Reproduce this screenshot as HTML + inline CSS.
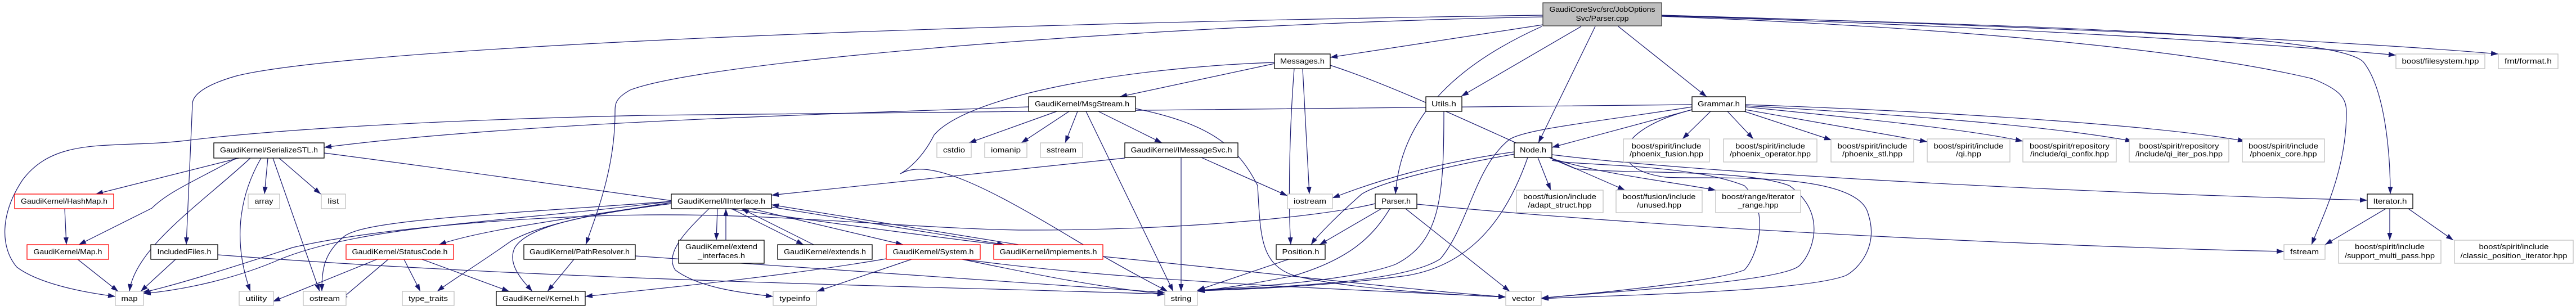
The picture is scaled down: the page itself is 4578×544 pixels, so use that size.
<!DOCTYPE html>
<html><head><meta charset="utf-8"><style>
html,body{margin:0;padding:0;background:#fff;}
svg{display:block;}
text{font-family:"Liberation Sans",sans-serif;font-size:13px;fill:#000;}
.e{fill:none;stroke:#191970;stroke-width:1.2;marker-end:url(#a);}
.b{fill:#fff;stroke:#000;stroke-width:1.3;}
.g{fill:#fff;stroke:#bfbfbf;stroke-width:1.3;}
.r{fill:#fff;stroke:#ff0000;stroke-width:1.3;}
.s{fill:#bfbfbf;stroke:#404040;stroke-width:1.3;}
</style></head><body>
<svg width="4578" height="544" viewBox="0 0 4578 544" xmlns="http://www.w3.org/2000/svg">
<defs><marker id="a" markerUnits="userSpaceOnUse" markerWidth="13" markerHeight="9" refX="13" refY="4.5" orient="auto"><path d="M0,0 L13,4.5 L0,9 z" fill="#191970"/></marker></defs>
<g>
<path class="e" d="M2742,27 C1500,45 600,90 420,135 C350,155 342,175 342,185 L331,435"/>
<path class="e" d="M2742,30 C2000,45 1250,110 1120,160 C1093,175 1093,185 1093,200 C1093,300 1060,380 1041,435"/>
<path class="e" d="M2742,44 L2364,102"/>
<path class="e" d="M2740,47 C2600,110 2490,200 2480,345"/>
<path class="e" d="M2810,47 L2597,171"/>
<path class="e" d="M2835,47 L2734,254"/>
<path class="e" d="M2876,47 L3033,172"/>
<path class="e" d="M2953,28 C3500,45 4000,75 4258,98"/>
<path class="e" d="M2953,27 C3600,45 4200,75 4440,96"/>
<path class="e" d="M2953,28 C3600,45 4150,60 4200,110 C4240,160 4248,280 4248,345"/>
<path class="e" d="M2953,29 C3500,50 3900,90 4110,140 C4160,160 4170,175 4170,200 C4170,300 4130,380 4108,435"/>
<path class="e" d="M2265,113 L1990,172"/>
<path class="e" d="M2265,111 C2000,120 1720,170 1660,240 C1640,280 1615,300 1600,309 C1650,280 1750,330 1900,420 C2000,480 2060,510 2075,518"/>
<path class="e" d="M2300,122 C2290,250 2290,380 2294,435"/>
<path class="e" d="M2315,122 L2327,345"/>
<path class="e" d="M2364,116 C2500,160 2700,260 2800,300 C2900,310 3100,300 3180,330 C3250,380 3220,450 3200,470 C3180,500 2900,515 2739,530"/>
<path class="e" d="M2758,285 C2800,295 3000,290 3100,330 C3150,380 3120,460 3100,480 C3050,500 2850,520 2739,530"/>
<path class="e" d="M3007,195 C2870,230 2850,300 2960,315 C3020,320 3300,300 3320,380 C3340,440 3300,480 3280,490 C3200,520 2850,525 2739,531"/>
<path class="e" d="M3040,198 L2990,247"/>
<path class="e" d="M3070,198 L3116,247"/>
<path class="e" d="M3100,198 L3255,249"/>
<path class="e" d="M3102,195 L3425,252"/>
<path class="e" d="M3102,190 C3300,210 3500,230 3595,251"/>
<path class="e" d="M3102,188 C3400,205 3650,225 3790,251"/>
<path class="e" d="M3102,186 C3500,200 3850,225 3990,251"/>
<path class="e" d="M3007,195 L2758,262"/>
<path class="e" d="M3007,186 C2000,198 1500,200 1150,205 C700,215 450,235 330,250 C200,265 100,240 40,320 C0,380 0,440 30,475 C70,505 150,520 205,527"/>
<path class="e" d="M3007,190 C2850,215 2700,230 2680,250 C2620,300 2610,400 2560,460 C2500,500 2300,510 2128,516"/>
<path class="e" d="M2566,198 C2566,350 2560,430 2480,470 C2400,500 2200,512 2128,516"/>
<path class="e" d="M2691,270 C2550,290 2450,320 2368,352"/>
<path class="e" d="M2691,274 C2600,290 2460,320 2420,345 C2380,380 2340,420 2330,435"/>
<path class="e" d="M2715,280 C2680,380 2620,470 2500,490 C2350,510 2200,515 2128,517"/>
<path class="e" d="M2733,280 L2756,338"/>
<path class="e" d="M2755,280 L2888,338"/>
<path class="e" d="M2758,282 C2850,310 2950,320 3049,338"/>
<path class="e" d="M2758,275 C3000,305 3600,340 4207,356"/>
<path class="e" d="M2455,371 L2345,435"/>
<path class="e" d="M2470,371 C2440,420 2400,460 2300,490 C2200,510 2150,515 2128,518"/>
<path class="e" d="M2498,371 L2683,518"/>
<path class="e" d="M2518,363 C3000,410 3700,440 4059,447"/>
<path class="e" d="M2444,362 C2350,385 2100,410 1810,409 C1600,405 1400,380 1150,382 C900,385 650,410 520,440 C400,480 300,510 253,520"/>
<path class="e" d="M2290,461 L2128,516"/>
<path class="e" d="M1999,281 L1371,347"/>
<path class="e" d="M2099,280 L2099,518"/>
<path class="e" d="M2135,280 L2288,348"/>
<path class="e" d="M1878,198 L1722,254"/>
<path class="e" d="M1900,198 L1815,254"/>
<path class="e" d="M1915,198 L1893,254"/>
<path class="e" d="M1952,198 L2065,254"/>
<path class="e" d="M1930,198 L2085,518"/>
<path class="e" d="M2018,193 C2150,220 2200,260 2235,330 C2240,420 2240,470 2300,490 C2400,515 2600,525 2676,528"/>
<path class="e" d="M1828,190 C1400,205 900,220 576,262"/>
<path class="e" d="M1193,360 C1000,390 850,410 780,435"/>
<path class="e" d="M1193,358 C900,395 650,400 500,460 C420,495 330,515 255,522"/>
<path class="e" d="M1193,358 C900,380 650,390 612,420 C575,450 572,480 572,518"/>
<path class="e" d="M1193,362 C1050,380 960,400 909,428 C850,470 800,500 777,518"/>
<path class="e" d="M1193,362 C1050,380 940,400 915,440 C900,470 930,500 946,518"/>
<path class="e" d="M1260,371 C1220,410 1180,450 1200,480 C1240,510 1310,520 1374,527"/>
<path class="e" d="M1275,371 L1273,427"/>
<path class="e" d="M1290,427 L1290,371"/>
<path class="e" d="M1300,371 L1428,435"/>
<path class="e" d="M1446,435 L1318,371"/>
<path class="e" d="M1335,371 L1605,435"/>
<path class="e" d="M1371,368 L1785,435"/>
<path class="e" d="M1810,435 L1371,364"/>
<path class="e" d="M425,281 L170,345"/>
<path class="e" d="M420,281 C350,320 300,340 270,370 L140,435"/>
<path class="e" d="M445,281 C360,360 240,440 230,518"/>
<path class="e" d="M464,281 C430,340 410,420 445,518"/>
<path class="e" d="M476,281 L470,345"/>
<path class="e" d="M485,281 L568,518"/>
<path class="e" d="M496,281 L570,345"/>
<path class="e" d="M576,272 C1100,340 1600,420 2000,460 C2300,490 2500,515 2676,528"/>
<path class="e" d="M115,371 L118,435"/>
<path class="e" d="M138,461 L210,518"/>
<path class="e" d="M312,461 L250,518"/>
<path class="e" d="M387,453 C1000,500 1700,510 2070,523"/>
<path class="e" d="M670,461 L485,536"/>
<path class="e" d="M690,461 L605,533"/>
<path class="e" d="M718,461 L747,518"/>
<path class="e" d="M750,461 L905,518"/>
<path class="e" d="M1020,461 L973,518"/>
<path class="e" d="M1129,455 C1500,480 1800,500 2070,520"/>
<path class="e" d="M1575,460 C1400,490 1200,510 1040,527"/>
<path class="e" d="M1620,461 L1452,518"/>
<path class="e" d="M1710,461 C1850,490 1950,510 2070,523"/>
<path class="e" d="M1712,461 C2000,500 2400,515 2676,528"/>
<path class="e" d="M4240,371 L4132,435"/>
<path class="e" d="M4247,371 L4247,427"/>
<path class="e" d="M4280,371 L4360,427"/>
</g>
<g>
<rect class="s" x="2742" y="5" width="211" height="41"/>
<text x="2847.5" y="21" text-anchor="middle" textLength="188" lengthAdjust="spacingAndGlyphs">GaudiCoreSvc/src/JobOptions</text>
<text x="2847.5" y="37" text-anchor="middle" textLength="94" lengthAdjust="spacingAndGlyphs">Svc/Parser.cpp</text>

<rect class="b" x="2265" y="96" width="99" height="26"/><text x="2314.5" y="113" text-anchor="middle" textLength="79" lengthAdjust="spacingAndGlyphs">Messages.h</text>
<rect class="b" x="2534" y="172" width="64" height="26"/><text x="2566" y="189" text-anchor="middle" textLength="44" lengthAdjust="spacingAndGlyphs">Utils.h</text>
<rect class="b" x="3007" y="172" width="95" height="26"/><text x="3054.5" y="189" text-anchor="middle" textLength="75" lengthAdjust="spacingAndGlyphs">Grammar.h</text>
<rect class="b" x="1828" y="172" width="190" height="26"/><text x="1923" y="189" text-anchor="middle" textLength="168" lengthAdjust="spacingAndGlyphs">GaudiKernel/MsgStream.h</text>
<rect class="b" x="2691" y="254" width="67" height="26"/><text x="2724.5" y="271" text-anchor="middle" textLength="47" lengthAdjust="spacingAndGlyphs">Node.h</text>
<rect class="b" x="1999" y="254" width="201" height="26"/><text x="2099.5" y="271" text-anchor="middle" textLength="180" lengthAdjust="spacingAndGlyphs">GaudiKernel/IMessageSvc.h</text>
<rect class="b" x="380" y="254" width="196" height="27"/><text x="478" y="271" text-anchor="middle" textLength="174" lengthAdjust="spacingAndGlyphs">GaudiKernel/SerializeSTL.h</text>
<rect class="g" x="1665" y="254" width="61" height="26"/><text x="1695.5" y="271" text-anchor="middle" textLength="39" lengthAdjust="spacingAndGlyphs">cstdio</text>
<rect class="g" x="1750" y="254" width="75" height="26"/><text x="1787.5" y="271" text-anchor="middle" textLength="53" lengthAdjust="spacingAndGlyphs">iomanip</text>
<rect class="g" x="1849" y="254" width="75" height="26"/><text x="1886.5" y="271" text-anchor="middle" textLength="53" lengthAdjust="spacingAndGlyphs">sstream</text>

<rect class="g" x="2885" y="247" width="153" height="41"/><text x="2961.5" y="264" text-anchor="middle" textLength="124" lengthAdjust="spacingAndGlyphs">boost/spirit/include</text><text x="2961.5" y="278" text-anchor="middle" textLength="131" lengthAdjust="spacingAndGlyphs">/phoenix_fusion.hpp</text>
<rect class="g" x="3063" y="247" width="166" height="41"/><text x="3146" y="264" text-anchor="middle" textLength="124" lengthAdjust="spacingAndGlyphs">boost/spirit/include</text><text x="3146" y="278" text-anchor="middle" textLength="144" lengthAdjust="spacingAndGlyphs">/phoenix_operator.hpp</text>
<rect class="g" x="3254" y="247" width="147" height="41"/><text x="3327.5" y="264" text-anchor="middle" textLength="124" lengthAdjust="spacingAndGlyphs">boost/spirit/include</text><text x="3327.5" y="278" text-anchor="middle" textLength="107" lengthAdjust="spacingAndGlyphs">/phoenix_stl.hpp</text>
<rect class="g" x="3425" y="247" width="147" height="41"/><text x="3498.5" y="264" text-anchor="middle" textLength="124" lengthAdjust="spacingAndGlyphs">boost/spirit/include</text><text x="3498.5" y="278" text-anchor="middle" textLength="45" lengthAdjust="spacingAndGlyphs">/qi.hpp</text>
<rect class="g" x="3595" y="247" width="166" height="41"/><text x="3678" y="264" text-anchor="middle" textLength="142" lengthAdjust="spacingAndGlyphs">boost/spirit/repository</text><text x="3678" y="278" text-anchor="middle" textLength="140" lengthAdjust="spacingAndGlyphs">/include/qi_confix.hpp</text>
<rect class="g" x="3784" y="247" width="177" height="41"/><text x="3872.5" y="264" text-anchor="middle" textLength="142" lengthAdjust="spacingAndGlyphs">boost/spirit/repository</text><text x="3872.5" y="278" text-anchor="middle" textLength="155" lengthAdjust="spacingAndGlyphs">/include/qi_iter_pos.hpp</text>
<rect class="g" x="3985" y="247" width="146" height="41"/><text x="4058" y="264" text-anchor="middle" textLength="124" lengthAdjust="spacingAndGlyphs">boost/spirit/include</text><text x="4058" y="278" text-anchor="middle" textLength="119" lengthAdjust="spacingAndGlyphs">/phoenix_core.hpp</text>

<rect class="g" x="4258" y="96" width="158" height="26"/><text x="4337" y="113" text-anchor="middle" textLength="137" lengthAdjust="spacingAndGlyphs">boost/filesystem.hpp</text>
<rect class="g" x="4440" y="96" width="106" height="26"/><text x="4493" y="113" text-anchor="middle" textLength="84" lengthAdjust="spacingAndGlyphs">fmt/format.h</text>

<rect class="r" x="26" y="345" width="176" height="26"/><text x="114" y="362" text-anchor="middle" textLength="154" lengthAdjust="spacingAndGlyphs">GaudiKernel/HashMap.h</text>
<rect class="g" x="441" y="345" width="56" height="26"/><text x="469" y="362" text-anchor="middle" textLength="33" lengthAdjust="spacingAndGlyphs">array</text>
<rect class="g" x="571" y="345" width="43" height="26"/><text x="592.5" y="362" text-anchor="middle" textLength="20" lengthAdjust="spacingAndGlyphs">list</text>
<rect class="b" x="1193" y="345" width="178" height="26"/><text x="1282" y="362" text-anchor="middle" textLength="156" lengthAdjust="spacingAndGlyphs">GaudiKernel/IInterface.h</text>
<rect class="g" x="2288" y="345" width="80" height="26"/><text x="2328" y="362" text-anchor="middle" textLength="58" lengthAdjust="spacingAndGlyphs">iostream</text>
<rect class="b" x="2444" y="345" width="74" height="26"/><text x="2481" y="362" text-anchor="middle" textLength="52" lengthAdjust="spacingAndGlyphs">Parser.h</text>
<rect class="g" x="2695" y="338" width="154" height="40"/><text x="2772" y="354" text-anchor="middle" textLength="130" lengthAdjust="spacingAndGlyphs">boost/fusion/include</text><text x="2772" y="369" text-anchor="middle" textLength="113" lengthAdjust="spacingAndGlyphs">/adapt_struct.hpp</text>
<rect class="g" x="2872" y="338" width="153" height="40"/><text x="2948.5" y="354" text-anchor="middle" textLength="130" lengthAdjust="spacingAndGlyphs">boost/fusion/include</text><text x="2948.5" y="369" text-anchor="middle" textLength="79" lengthAdjust="spacingAndGlyphs">/unused.hpp</text>
<rect class="g" x="3049" y="338" width="151" height="40"/><text x="3124.5" y="354" text-anchor="middle" textLength="129" lengthAdjust="spacingAndGlyphs">boost/range/iterator</text><text x="3124.5" y="369" text-anchor="middle" textLength="72" lengthAdjust="spacingAndGlyphs">_range.hpp</text>
<rect class="b" x="4207" y="345" width="81" height="26"/><text x="4247.5" y="362" text-anchor="middle" textLength="60" lengthAdjust="spacingAndGlyphs">Iterator.h</text>

<rect class="r" x="48" y="435" width="145" height="26"/><text x="120.5" y="452" text-anchor="middle" textLength="122" lengthAdjust="spacingAndGlyphs">GaudiKernel/Map.h</text>
<rect class="b" x="268" y="435" width="119" height="26"/><text x="327.5" y="452" text-anchor="middle" textLength="96" lengthAdjust="spacingAndGlyphs">IncludedFiles.h</text>
<rect class="r" x="615" y="435" width="191" height="26"/><text x="710.5" y="452" text-anchor="middle" textLength="170" lengthAdjust="spacingAndGlyphs">GaudiKernel/StatusCode.h</text>
<rect class="b" x="931" y="435" width="198" height="26"/><text x="1030" y="452" text-anchor="middle" textLength="178" lengthAdjust="spacingAndGlyphs">GaudiKernel/PathResolver.h</text>
<rect class="b" x="1206" y="427" width="152" height="41"/><text x="1282" y="443" text-anchor="middle" textLength="128" lengthAdjust="spacingAndGlyphs">GaudiKernel/extend</text><text x="1282" y="459" text-anchor="middle" textLength="84" lengthAdjust="spacingAndGlyphs">_interfaces.h</text>
<rect class="b" x="1382" y="435" width="168" height="26"/><text x="1466" y="452" text-anchor="middle" textLength="146" lengthAdjust="spacingAndGlyphs">GaudiKernel/extends.h</text>
<rect class="r" x="1575" y="435" width="167" height="26"/><text x="1658.5" y="452" text-anchor="middle" textLength="144" lengthAdjust="spacingAndGlyphs">GaudiKernel/System.h</text>
<rect class="r" x="1766" y="435" width="194" height="26"/><text x="1863" y="452" text-anchor="middle" textLength="173" lengthAdjust="spacingAndGlyphs">GaudiKernel/implements.h</text>
<rect class="b" x="2268" y="435" width="87" height="26"/><text x="2311.5" y="452" text-anchor="middle" textLength="66" lengthAdjust="spacingAndGlyphs">Position.h</text>
<rect class="g" x="4059" y="435" width="73" height="26"/><text x="4095.5" y="452" text-anchor="middle" textLength="51" lengthAdjust="spacingAndGlyphs">fstream</text>
<rect class="g" x="4156" y="427" width="182" height="41"/><text x="4247" y="443" text-anchor="middle" textLength="124" lengthAdjust="spacingAndGlyphs">boost/spirit/include</text><text x="4247" y="459" text-anchor="middle" textLength="160" lengthAdjust="spacingAndGlyphs">/support_multi_pass.hpp</text>
<rect class="g" x="4362" y="427" width="211" height="41"/><text x="4467.5" y="443" text-anchor="middle" textLength="124" lengthAdjust="spacingAndGlyphs">boost/spirit/include</text><text x="4467.5" y="459" text-anchor="middle" textLength="190" lengthAdjust="spacingAndGlyphs">/classic_position_iterator.hpp</text>

<rect class="g" x="205" y="518" width="50" height="25"/><text x="230" y="535" text-anchor="middle" textLength="29" lengthAdjust="spacingAndGlyphs">map</text>
<rect class="g" x="425" y="518" width="61" height="25"/><text x="455.5" y="535" text-anchor="middle" textLength="38" lengthAdjust="spacingAndGlyphs">utility</text>
<rect class="g" x="539" y="518" width="76" height="25"/><text x="577" y="535" text-anchor="middle" textLength="54" lengthAdjust="spacingAndGlyphs">ostream</text>
<rect class="g" x="715" y="518" width="92" height="25"/><text x="761" y="535" text-anchor="middle" textLength="70" lengthAdjust="spacingAndGlyphs">type_traits</text>
<rect class="b" x="882" y="518" width="158" height="25"/><text x="961" y="535" text-anchor="middle" textLength="136" lengthAdjust="spacingAndGlyphs">GaudiKernel/Kernel.h</text>
<rect class="g" x="1374" y="518" width="77" height="25"/><text x="1412.5" y="535" text-anchor="middle" textLength="55" lengthAdjust="spacingAndGlyphs">typeinfo</text>
<rect class="g" x="2070" y="518" width="58" height="25"/><text x="2099" y="535" text-anchor="middle" textLength="37" lengthAdjust="spacingAndGlyphs">string</text>
<rect class="g" x="2676" y="518" width="63" height="25"/><text x="2707.5" y="535" text-anchor="middle" textLength="41" lengthAdjust="spacingAndGlyphs">vector</text>
</g>
</svg>
</body></html>
